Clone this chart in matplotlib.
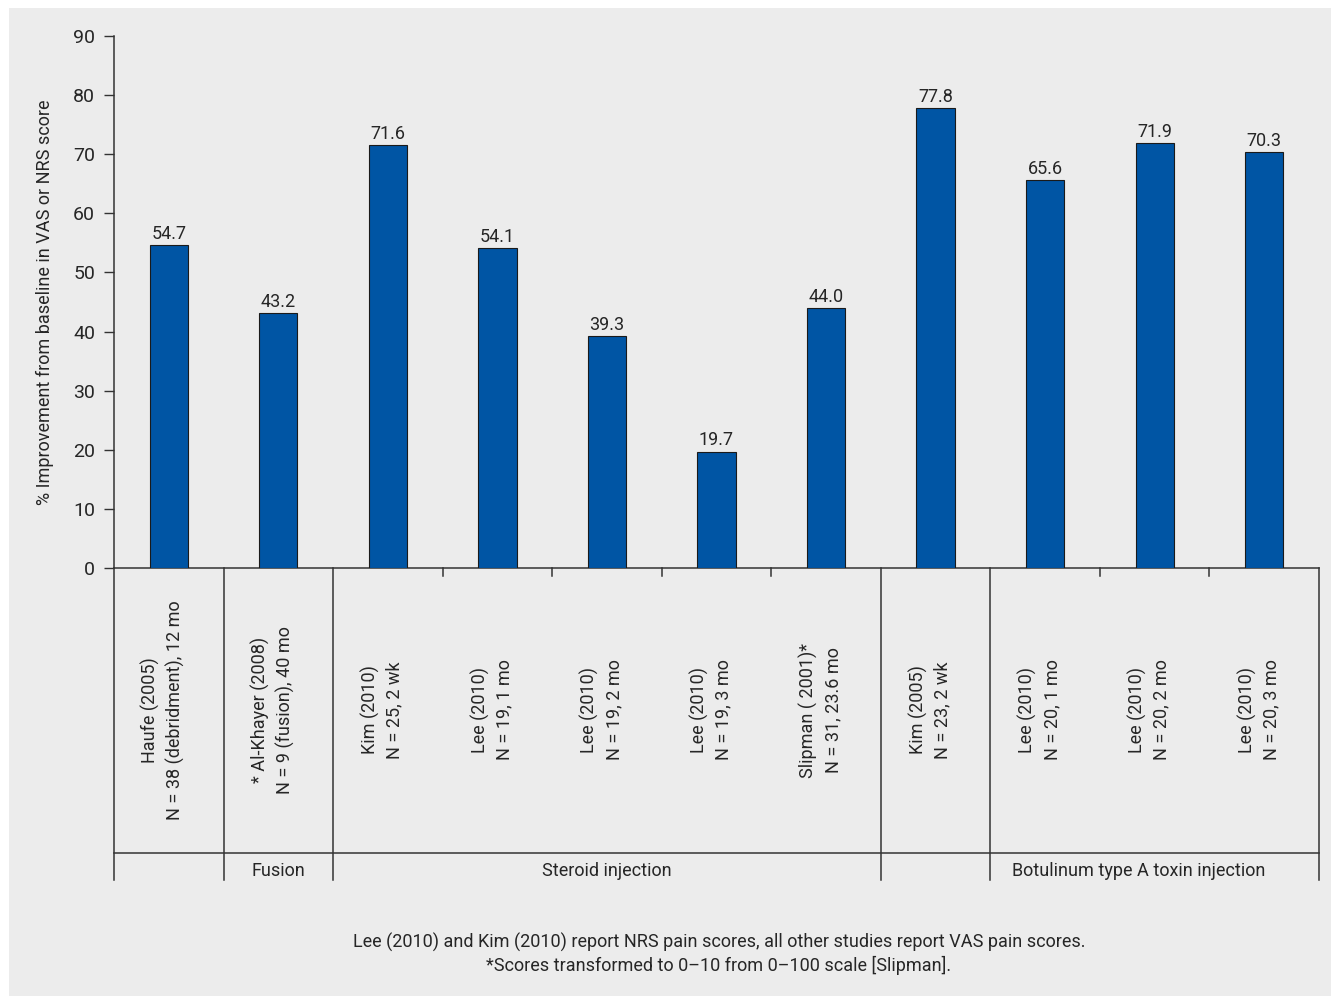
import matplotlib
matplotlib.use("Agg")
import matplotlib.pyplot as plt
from matplotlib.patches import Rectangle
import matplotlib.transforms as mtransforms
from matplotlib import font_manager

names = {f.name for f in font_manager.fontManager.ttflist}
fam = ['Liberation Sans Narrow', 'DejaVu Sans'] if 'Liberation Sans Narrow' in names else ['Roboto', 'DejaVu Sans']
plt.rcParams['font.family'] = fam

categories = [
    "Haufe (2005)\nN = 38 (debridment), 12 mo",
    "* Al-Khayer (2008)\nN = 9 (fusion), 40 mo",
    "Kim (2010)\nN = 25, 2 wk",
    "Lee (2010)\nN = 19, 1 mo",
    "Lee (2010)\nN = 19, 2 mo",
    "Lee (2010)\nN = 19, 3 mo",
    "Slipman ( 2001)*\nN = 31, 23.6 mo",
    "Kim (2005)\nN = 23, 2 wk",
    "Lee (2010)\nN = 20, 1 mo",
    "Lee (2010)\nN = 20, 2 mo",
    "Lee (2010)\nN = 20, 3 mo",
]
values = [54.7, 43.2, 71.6, 54.1, 39.3, 19.7, 44.0, 77.8, 65.6, 71.9, 70.3]
value_labels = ["54.7", "43.2", "71.6", "54.1", "39.3", "19.7", "44.0", "77.8", "65.6", "71.9", "70.3"]
group_labels = ["", "Fusion", "Steroid injection", "", "Botulinum type A toxin injection"]
group_spans = [(0, 0), (1, 1), (2, 6), (7, 7), (8, 10)]
yticks = [0, 10, 20, 30, 40, 50, 60, 70, 80, 90]
ylabel = "% Improvement from baseline in VAS or NRS score"
footnote = ("Lee (2010) and Kim (2010) report NRS pain scores, all other studies report VAS pain scores.\n"
            "*Scores transformed to 0\u201310 from 0\u2013100 scale [Slipman].")

W, H = 1340, 997
fig = plt.figure(figsize=(W / 100, H / 100), dpi=100, facecolor='white')
bg = '#ececec'
fig.patches.append(Rectangle((9 / W, 1 - 996 / H), (1331 - 9) / W, (996 - 8) / H,
                             transform=fig.transFigure, facecolor=bg, edgecolor='none', zorder=-10))

ax = fig.add_axes([114 / W, 1 - 568 / H, (1319 - 114) / W, (568 - 36) / H])
ax.set_facecolor('none')
ax.set_zorder(2)
lc = '#333333'
tc = '#262626'

x = list(range(len(values)))
ax.bar(x, values, width=0.35, color='#0055a4', edgecolor='#1a1a1a', linewidth=0.8, zorder=3)
for xi, v, lab in zip(x, values, value_labels):
    ax.annotate(lab, (xi, v), xytext=(0, 1.5), textcoords='offset points',
                ha='center', va='bottom', fontsize=13, color=tc)

ax.set_xlim(-0.5, len(values) - 0.5)
ax.set_ylim(0, 90)
ax.set_yticks(yticks)
ax.tick_params(axis='y', direction='out', length=7.5, width=1, color=lc, labelsize=14, labelcolor=tc, pad=6)
ax.set_xticks([])
for s in ['top', 'right']:
    ax.spines[s].set_visible(False)
ax.spines['left'].set_color(lc)
ax.spines['bottom'].set_color(lc)
ax.spines['left'].set_linewidth(1.1)
ax.spines['bottom'].set_linewidth(1.1)
ax.set_ylabel(ylabel, fontsize=13, color=tc, labelpad=14)

trans = mtransforms.blended_transform_factory(ax.transData, ax.transAxes)
ppu = 532.0
def ay(py):
    return (568 - py) / ppu

ax.plot([-0.5, len(values) - 0.5], [ay(853), ay(853)], transform=trans, color=lc, lw=1.1, clip_on=False)

major_cat = set()
for (a, b) in group_spans:
    major_cat.add(a - 0.5)
    major_cat.add(b + 0.5)
for i in range(len(values) + 1):
    bx = i - 0.5
    if bx in major_cat:
        ax.plot([bx, bx], [0, ay(880)], transform=trans, color=lc, lw=1.1, clip_on=False)
    else:
        ax.plot([bx, bx], [0, ay(576)], transform=trans, color=lc, lw=1.1, clip_on=False)

for xi, lab in zip(x, categories):
    ax.text(xi - 0.05, ay(710), lab, transform=trans, rotation=90, ha='center', va='center',
            multialignment='center', fontsize=13, color=tc, linespacing=1.4)

for (a, b), g in zip(group_spans, group_labels):
    if g:
        cx = (a + b) / 2
        if g.startswith("Botulinum"):
            cx = 8.85
        ax.text(cx, ay(871), g, transform=trans, ha='center', va='center', fontsize=13, color=tc)

fig.text(719 / W, 1 - 954 / H, footnote, ha='center', va='center', fontsize=13,
         color=tc, linespacing=1.25)

fig.savefig('out.png', dpi=100, facecolor='white')
